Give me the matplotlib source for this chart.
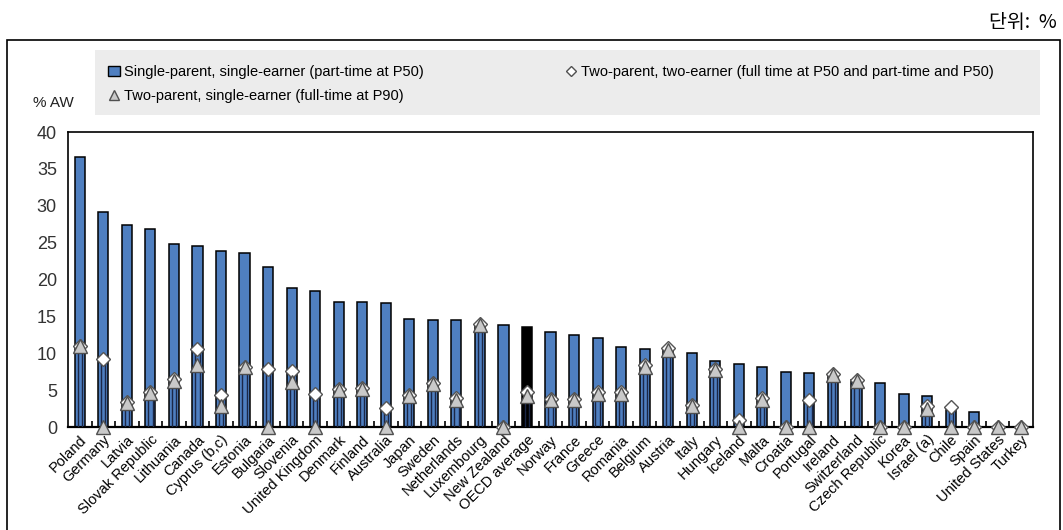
import matplotlib.pyplot as plt
from matplotlib.lines import Line2D
from matplotlib.patches import Patch, Rectangle
import numpy as np

plt.rcParams['font.family'] = ['Liberation Sans Narrow', 'Liberation Sans', 'DejaVu Sans']

countries = ["Poland", "Germany", "Latvia", "Slovak Republic", "Lithuania", "Canada",
             "Cyprus (b,c)", "Estonia", "Bulgaria", "Slovenia", "United Kingdom", "Denmark",
             "Finland", "Australia", "Japan", "Sweden", "Netherlands", "Luxembourg",
             "New Zealand", "OECD average", "Norway", "France", "Greece", "Romania",
             "Belgium", "Austria", "Italy", "Hungary", "Iceland", "Malta", "Croatia",
             "Portugal", "Ireland", "Switzerland", "Czech Republic", "Korea", "Israel (a)",
             "Chile", "Spain", "United States", "Turkey"]

# single-parent, single-earner (part-time at P50)
single = [36.6, 29.1, 27.4, 26.8, 24.8, 24.6, 23.8, 23.6, 21.7, 18.9, 18.5, 17.0,
          17.0, 16.8, 14.7, 14.5, 14.5, 13.9, 13.8, 13.6, 12.9, 12.5, 12.1, 10.9,
          10.6, 10.7, 10.0, 9.0, 8.6, 8.1, 7.5, 7.3, 7.2, 6.4, 6.0, 4.5, 4.2,
          2.3, 2.0, 0.0, 0.0]
# two-parent, single-earner (full-time at P90)
tri = [11.0, 0.0, 3.2, 4.6, 6.3, 8.4, 2.8, 8.2, 0.0, 6.1, 0.0, 5.0,
       5.2, 0.0, 4.2, 5.8, 3.7, 13.9, 0.0, 4.2, 3.6, 3.6, 4.5, 4.5,
       8.2, 10.5, 2.8, 7.7, 0.0, 3.7, 0.0, 0.0, 7.0, 6.2, 0.0, 0.0, 2.5,
       0.0, 0.0, 0.0, 0.0]
# two-parent, two-earner (full time at P50 and part-time and P50)
dia = [11.0, 9.2, 3.4, 4.8, 6.5, 10.6, 4.4, 8.2, 7.8, 7.6, 4.5, 5.2,
       5.3, 2.6, 4.4, 6.0, 3.9, 14.0, 0.0, 4.8, 3.8, 3.8, 4.7, 4.7,
       8.4, 10.7, 3.0, 7.9, 1.0, 3.9, 0.0, 3.7, 7.2, 6.4, 0.0, 0.0, 2.8,
       2.7, 0.0, 0.0, 0.0]

x = np.arange(len(countries))
blue = '#4f7fc0'
colors = ['black' if c == "OECD average" else blue for c in countries]

fig = plt.figure(figsize=(10.63, 5.30), dpi=100)
ax = fig.add_axes([0.064, 0.1943, 0.9078, 0.5566])

ax.bar(x, single, width=0.43, color=colors, edgecolor='black', linewidth=1.1, zorder=2)
top = np.minimum(np.maximum(tri, dia), single)
ax.vlines(x - 0.09, 0, top, color='#1b2747', linewidth=1.0, zorder=3)
ax.vlines(x + 0.09, 0, top, color='#1b2747', linewidth=1.0, zorder=3)
ax.plot(x, dia, 'D', ms=7.5, mfc='white', mec='#555555', mew=1.0, ls='none', zorder=4, clip_on=False)
ax.plot(x, tri, '^', ms=10.5, mfc='#c9c9c9', mec='#505050', mew=1.0, ls='none', zorder=5, clip_on=False)

ax.set_xlim(-0.5, len(countries) - 0.5)
ax.set_ylim(0, 40)
ax.set_yticks(range(0, 41, 5))
ax.tick_params(axis='y', length=0, labelsize=13, labelcolor='#333333', pad=8)
ax.set_xticks(x)
ax.set_xticklabels(countries, rotation=45, ha='right', rotation_mode='anchor', fontsize=10.5)
ax.tick_params(axis='x', length=0, pad=4)
ax.set_xticks(x[:-1] + 0.5, minor=True)
ax.tick_params(axis='x', which='minor', direction='in', length=4, width=1.2)
for s in ax.spines.values():
    s.set_linewidth(1.2)
ax.spines['bottom'].set_linewidth(1.6)

# outer frame and legend band
fig.patches.append(Rectangle((7 / 1063, -0.05), 1053 / 1063, 1 - 40 / 530 + 0.05,
                             transform=fig.transFigure, fill=False, edgecolor='black', linewidth=1.2))
fig.patches.append(Rectangle((95 / 1063, 1 - 115 / 530), 945 / 1063, 65 / 530,
                             transform=fig.transFigure, facecolor='#ececec', edgecolor='none'))

handles = [Patch(facecolor=blue, edgecolor='black', linewidth=1.0),
           Line2D([], [], marker='^', ls='none', ms=7, mfc='#c9c9c9', mec='#505050'),
           Line2D([], [], marker='D', ls='none', ms=5, mfc='white', mec='#505050')]
labels = ["Single-parent, single-earner (part-time at P50)",
          "Two-parent, single-earner (full-time at P90)",
          "Two-parent, two-earner (full time at P50 and part-time and P50)"]
fig.legend(handles, labels, loc='upper left', bbox_to_anchor=(95 / 1063, 1 - 52 / 530), ncol=2,
           frameon=False, fontsize=10.5, handlelength=0.8, handletextpad=0.3,
           columnspacing=9.7, labelspacing=0.7)

fig.text(33 / 1063, 1 - 103 / 530, "% AW", fontsize=11, va='center', ha='left', color='#222222')
fig.text(1057 / 1063, 1 - 22 / 530, "단위:  %", fontsize=14, ha='right', va='center',
         family=['Noto Sans CJK KR', 'DejaVu Sans'])

fig.savefig("out.png", dpi=100)
